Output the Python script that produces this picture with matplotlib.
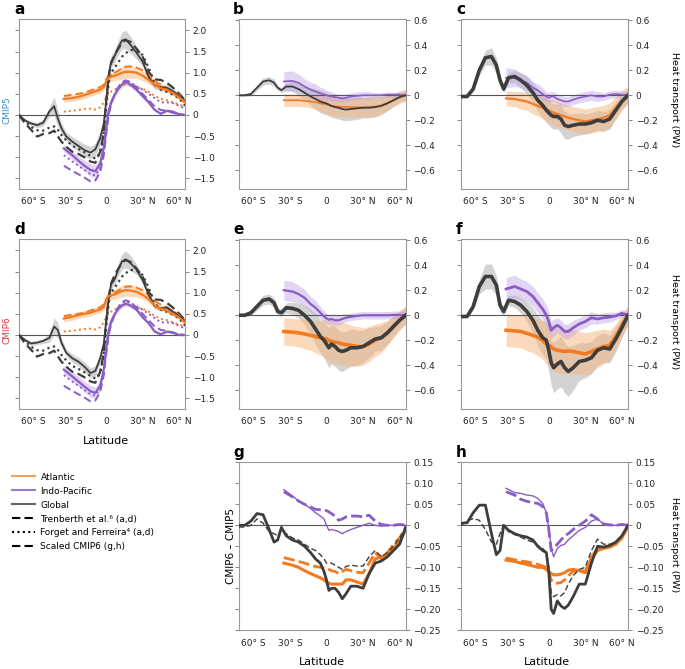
import matplotlib
matplotlib.use("Agg")
import matplotlib.pyplot as plt
from matplotlib.lines import Line2D

plt.rcParams['font.family'] = ['DejaVu Sans']

# latitude grids (global lines and the two ocean basins)
lat = [-72, -67, -62, -57, -52, -47, -43, -40, -37, -33, -28, -23, -18, -13, -9, -5, -2, 0,
       2, 4, 7, 10, 13, 16, 20, 25, 30, 35, 40, 45, 50, 55, 60, 65]
olat = [-35, -28, -23, -18, -13, -9, -5, -2, 0, 2, 4, 7, 10, 13, 16, 20, 25, 30, 35, 40, 45,
        50, 55, 60, 65]

xticks = [-60, -30, 0, 30, 60]
xtick_labels = ['60° S', '30° S', '0', '30° N', '60° N']
abs_ticks = [2.0, 1.5, 1.0, 0.5, 0, -0.5, -1.0, -1.5]
abs_labels = ['2.0', '1.5', '1.0', '0.5', '0', '−0.5', '−1.0', '−1.5']
chg_ticks = [0.6, 0.4, 0.2, 0, -0.2, -0.4, -0.6]
chg_labels = ['0.6', '0.4', '0.2', '0', '−0.2', '−0.4', '−0.6']
dif_ticks = [0.15, 0.10, 0.05, 0, -0.05, -0.10, -0.15, -0.20, -0.25]
dif_labels = ['0.15', '0.10', '0.05', '0', '−0.05', '−0.10', '−0.15', '−0.20', '−0.25']

# observational estimates (same in a and d)
obs_glob_tren = [0, -0.2, -0.35, -0.51, -0.45, -0.43, -0.37, -0.5, -0.63, -0.75, -0.87, -0.92, -1.0,
                 -1.1, -1.13, -0.87, -0.43, 0.35, 0.9, 1.22, 1.42, 1.57, 1.71, 1.77, 1.73, 1.57,
                 1.38, 1.02, 0.84, 0.83, 0.76, 0.65, 0.51, 0.35]
obs_glob_forg = [0, -0.15, -0.28, -0.36, -0.37, -0.3, -0.27, -0.35, -0.47, -0.6, -0.73, -0.8, -0.88,
                 -0.97, -1.03, -0.9, -0.45, 0.2, 0.75, 1.0, 1.12, 1.25, 1.38, 1.46, 1.54, 1.52,
                 1.42, 1.12, 0.75, 0.6, 0.55, 0.48, 0.4, 0.22]
obs_atl_tren = [0.45, 0.48, 0.5, 0.53, 0.58, 0.62, 0.66, 0.72, 0.85, 0.93, 0.97, 1.0, 1.05, 1.1,
                1.14, 1.15, 1.12, 1.06, 0.95, 0.8, 0.72, 0.65, 0.57, 0.47, 0.33]
obs_atl_forg = [0.08, 0.1, 0.12, 0.14, 0.15, 0.13, 0.18, 0.3, 0.42, 0.5, 0.55, 0.6, 0.65, 0.7, 0.72,
                0.7, 0.66, 0.62, 0.55, 0.45, 0.38, 0.35, 0.3, 0.25, 0.2]
obs_ip_tren = [-1.2, -1.32, -1.4, -1.48, -1.57, -1.55, -1.35, -0.95, -0.45, 0.0, 0.25, 0.5, 0.66,
               0.78, 0.82, 0.78, 0.65, 0.5, 0.35, 0.2, 0.12, 0.1, 0.05, 0.02, 0.0]
obs_ip_forg = [-0.95, -1.1, -1.2, -1.3, -1.4, -1.43, -1.25, -0.85, -0.4, 0.05, 0.28, 0.5, 0.65,
               0.76, 0.8, 0.76, 0.68, 0.6, 0.5, 0.4, 0.3, 0.3, 0.28, 0.22, 0.15]

# a: CMIP5 model mean
a_glob = [0, -0.13, -0.2, -0.24, -0.18, 0.08, 0.21, -0.08, -0.31, -0.51, -0.63, -0.73, -0.83,
          -0.89, -0.81, -0.55, -0.2, 0.35, 0.95, 1.26, 1.4, 1.6, 1.76, 1.79, 1.66, 1.47, 1.26,
          0.9, 0.7, 0.66, 0.64, 0.56, 0.45, 0.33]
a_glob_sd = [0.0, 0.04, 0.05, 0.06, 0.08, 0.12, 0.22, 0.2, 0.12, 0.1, 0.12, 0.13, 0.14, 0.15, 0.15,
             0.15, 0.15, 0.15, 0.15, 0.15, 0.15, 0.17, 0.2, 0.22, 0.2, 0.15, 0.1, 0.1, 0.08, 0.07,
             0.07, 0.07, 0.07, 0.07]
a_atl = [0.38, 0.4, 0.43, 0.47, 0.52, 0.56, 0.6, 0.66, 0.8, 0.88, 0.9, 0.93, 0.96, 1.0, 1.02, 1.02,
         1.0, 0.93, 0.83, 0.72, 0.63, 0.6, 0.52, 0.42, 0.3]
a_atl_sd = [0.08, 0.08, 0.08, 0.08, 0.08, 0.08, 0.08, 0.08, 0.1, 0.1, 0.1, 0.12, 0.13, 0.15, 0.15,
            0.15, 0.13, 0.12, 0.1, 0.08, 0.07, 0.07, 0.06, 0.06, 0.06]
a_ip = [-0.79, -0.95, -1.08, -1.2, -1.3, -1.33, -1.15, -0.75, -0.3, 0.1, 0.3, 0.48, 0.62, 0.72,
        0.78, 0.72, 0.6, 0.45, 0.3, 0.12, 0.03, 0.1, 0.08, 0.02, 0.0]
a_ip_sd = [0.08, 0.1, 0.12, 0.13, 0.15, 0.15, 0.12, 0.1, 0.1, 0.08, 0.08, 0.08, 0.07, 0.07, 0.07,
           0.06, 0.06, 0.05, 0.04, 0.03, 0.03, 0.03, 0.02, 0.02, 0.02]

# d: CMIP6 model mean
d_glob = [0, -0.12, -0.2, -0.18, -0.14, -0.07, 0.2, 0.12, -0.18, -0.42, -0.55, -0.63, -0.75, -0.9,
          -0.85, -0.55, -0.2, 0.35, 0.85, 1.2, 1.32, 1.55, 1.74, 1.79, 1.7, 1.55, 1.3, 0.95, 0.68,
          0.63, 0.65, 0.55, 0.45, 0.33]
d_glob_sd = [0.0, 0.04, 0.05, 0.05, 0.06, 0.1, 0.2, 0.18, 0.1, 0.08, 0.1, 0.1, 0.12, 0.12, 0.12,
             0.12, 0.12, 0.12, 0.12, 0.12, 0.13, 0.15, 0.18, 0.2, 0.18, 0.12, 0.08, 0.08, 0.07,
             0.06, 0.06, 0.06, 0.06, 0.06]
d_atl = [0.39, 0.43, 0.47, 0.5, 0.53, 0.57, 0.6, 0.66, 0.85, 0.92, 0.94, 0.96, 1.0, 1.04, 1.06, 1.05,
         1.02, 0.95, 0.85, 0.7, 0.62, 0.58, 0.5, 0.42, 0.3]
d_atl_sd = [0.08, 0.08, 0.08, 0.08, 0.08, 0.08, 0.08, 0.08, 0.1, 0.1, 0.1, 0.12, 0.13, 0.14, 0.14,
            0.14, 0.12, 0.1, 0.08, 0.07, 0.06, 0.06, 0.06, 0.06, 0.06]
d_ip = [-0.82, -0.98, -1.1, -1.22, -1.33, -1.37, -1.2, -0.8, -0.3, 0.1, 0.32, 0.5, 0.62, 0.7, 0.74,
        0.7, 0.6, 0.42, 0.28, 0.08, 0.02, 0.08, 0.06, 0.0, 0.0]
d_ip_sd = [0.1, 0.11, 0.12, 0.13, 0.14, 0.14, 0.12, 0.1, 0.1, 0.08, 0.08, 0.07, 0.07, 0.06, 0.06,
           0.06, 0.05, 0.05, 0.04, 0.03, 0.03, 0.03, 0.02, 0.02, 0.02]

# b, c: CMIP5 changes; e, f: CMIP6 changes
b_glob = [0, 0, 0.01, 0.06, 0.11, 0.12, 0.1, 0.06, 0.04, 0.07, 0.07, 0.05, 0.02, -0.01, -0.03,
          -0.05, -0.06, -0.065, -0.075, -0.085, -0.095, -0.1, -0.11, -0.115, -0.11, -0.105, -0.1,
          -0.1, -0.095, -0.085, -0.065, -0.04, -0.015, 0.0]
b_glob_sd = [0.01, 0.01, 0.015, 0.02, 0.03, 0.03, 0.03, 0.02, 0.02, 0.03, 0.04, 0.05, 0.06, 0.07,
             0.08, 0.09, 0.09, 0.09, 0.09, 0.09, 0.09, 0.09, 0.09, 0.09, 0.09, 0.09, 0.08, 0.08,
             0.08, 0.07, 0.06, 0.05, 0.04, 0.04]
b_atl = [-0.04, -0.04, -0.04, -0.045, -0.05, -0.055, -0.065, -0.07, -0.075, -0.08, -0.085, -0.088,
         -0.09, -0.092, -0.094, -0.095, -0.096, -0.096, -0.094, -0.09, -0.08, -0.06, -0.04,
         -0.015, 0.0]
b_atl_sd = [0.05, 0.05, 0.05, 0.05, 0.05, 0.06, 0.06, 0.07, 0.07, 0.08, 0.08, 0.08, 0.08, 0.08,
            0.08, 0.08, 0.08, 0.08, 0.08, 0.08, 0.07, 0.06, 0.05, 0.05, 0.05]
b_ip = [0.11, 0.115, 0.1, 0.07, 0.045, 0.03, 0.015, 0.005, 0.0, -0.005, -0.01, -0.015, -0.02,
        -0.025, -0.02, -0.01, -0.005, 0.0, 0.0, 0.0, 0.0, 0.005, 0.005, 0.005, 0.0]
b_ip_sd = [0.08, 0.08, 0.07, 0.06, 0.06, 0.06, 0.05, 0.05, 0.04, 0.04, 0.04, 0.03, 0.03, 0.03,
           0.03, 0.03, 0.03, 0.03, 0.03, 0.02, 0.02, 0.02, 0.02, 0.02, 0.02]

c_glob = [-0.01, -0.01, 0.05, 0.2, 0.3, 0.31, 0.24, 0.12, 0.05, 0.14, 0.15, 0.12, 0.08, 0.02,
          -0.04, -0.08, -0.12, -0.14, -0.16, -0.17, -0.17, -0.19, -0.24, -0.25, -0.24, -0.23,
          -0.23, -0.22, -0.2, -0.21, -0.19, -0.12, -0.05, 0.0]
c_glob_sd = [0.01, 0.01, 0.02, 0.04, 0.06, 0.07, 0.06, 0.04, 0.03, 0.04, 0.05, 0.06, 0.07, 0.08,
             0.09, 0.1, 0.1, 0.1, 0.1, 0.1, 0.1, 0.11, 0.11, 0.1, 0.09, 0.09, 0.08, 0.08, 0.08,
             0.08, 0.08, 0.07, 0.06, 0.06]
c_atl = [-0.025, -0.03, -0.04, -0.05, -0.07, -0.085, -0.1, -0.11, -0.12, -0.13, -0.14, -0.15,
         -0.16, -0.17, -0.18, -0.19, -0.2, -0.21, -0.2, -0.19, -0.18, -0.16, -0.1, -0.04, 0.0]
c_atl_sd = [0.06, 0.06, 0.07, 0.07, 0.08, 0.08, 0.09, 0.09, 0.1, 0.1, 0.1, 0.1, 0.1, 0.1, 0.1, 0.1,
            0.1, 0.1, 0.1, 0.1, 0.1, 0.1, 0.09, 0.08, 0.07]
c_ip = [0.14, 0.14, 0.12, 0.1, 0.06, 0.04, 0.01, -0.01, -0.02, -0.01, -0.01, -0.03, -0.04, -0.05,
        -0.05, -0.035, -0.02, -0.01, 0.0, -0.01, -0.01, 0.005, 0.01, 0.005, 0.0]
c_ip_sd = [0.08, 0.07, 0.06, 0.06, 0.05, 0.05, 0.05, 0.04, 0.04, 0.04, 0.04, 0.04, 0.04, 0.04,
           0.04, 0.04, 0.04, 0.04, 0.04, 0.04, 0.03, 0.03, 0.03, 0.03, 0.03]

e_glob = [0, 0, 0.02, 0.07, 0.12, 0.13, 0.1, 0.03, 0.02, 0.06, 0.055, 0.04, 0.0, -0.05, -0.11,
          -0.17, -0.2, -0.23, -0.26, -0.23, -0.25, -0.28, -0.29, -0.28, -0.26, -0.26, -0.25,
          -0.22, -0.19, -0.18, -0.14, -0.09, -0.04, 0.0]
e_glob_sd = [0.01, 0.01, 0.02, 0.03, 0.04, 0.04, 0.04, 0.03, 0.03, 0.04, 0.05, 0.06, 0.08, 0.1,
             0.12, 0.13, 0.14, 0.15, 0.16, 0.16, 0.16, 0.16, 0.16, 0.15, 0.15, 0.14, 0.13, 0.12,
             0.1, 0.1, 0.09, 0.08, 0.07, 0.07]
e_atl = [-0.13, -0.135, -0.14, -0.15, -0.16, -0.17, -0.18, -0.185, -0.19, -0.2, -0.21, -0.215,
         -0.22, -0.23, -0.235, -0.24, -0.25, -0.25, -0.23, -0.2, -0.18, -0.14, -0.09, -0.04, 0.0]
e_atl_sd = [0.11, 0.11, 0.11, 0.12, 0.12, 0.13, 0.14, 0.15, 0.16, 0.17, 0.17, 0.17, 0.17, 0.17,
            0.17, 0.16, 0.16, 0.15, 0.14, 0.13, 0.12, 0.1, 0.09, 0.08, 0.07]
e_ip = [0.2, 0.19, 0.17, 0.14, 0.09, 0.06, 0.02, -0.01, -0.025, -0.035, -0.03, -0.04, -0.04,
        -0.03, -0.02, -0.012, -0.005, 0.0, 0.0, 0.0, 0.0, 0.0, 0.003, 0.003, 0.0]
e_ip_sd = [0.08, 0.08, 0.07, 0.07, 0.06, 0.06, 0.05, 0.05, 0.04, 0.04, 0.04, 0.04, 0.04, 0.04,
           0.03, 0.03, 0.03, 0.03, 0.03, 0.03, 0.03, 0.03, 0.03, 0.03, 0.03]

f_glob = [-0.01, -0.01, 0.07, 0.23, 0.31, 0.31, 0.24, 0.08, 0.03, 0.12, 0.11, 0.08, 0.03, -0.04,
          -0.12, -0.18, -0.2, -0.28, -0.38, -0.42, -0.39, -0.37, -0.42, -0.45, -0.42, -0.37,
          -0.36, -0.34, -0.28, -0.26, -0.27, -0.19, -0.1, 0.0]
f_glob_sd = [0.01, 0.01, 0.03, 0.06, 0.1, 0.1, 0.08, 0.05, 0.04, 0.04, 0.05, 0.06, 0.08, 0.1,
             0.12, 0.14, 0.15, 0.17, 0.18, 0.2, 0.2, 0.2, 0.2, 0.2, 0.18, 0.15, 0.14, 0.13, 0.12,
             0.12, 0.11, 0.1, 0.08, 0.07]
f_atl = [-0.12, -0.125, -0.13, -0.145, -0.16, -0.175, -0.2, -0.23, -0.24, -0.255, -0.27, -0.28,
         -0.285, -0.29, -0.285, -0.29, -0.3, -0.31, -0.29, -0.27, -0.25, -0.24, -0.17, -0.08, 0.0]
f_atl_sd = [0.13, 0.13, 0.13, 0.14, 0.14, 0.15, 0.15, 0.16, 0.17, 0.18, 0.18, 0.18, 0.18, 0.18,
            0.18, 0.18, 0.17, 0.17, 0.16, 0.15, 0.14, 0.12, 0.1, 0.09, 0.08]
f_ip = [0.21, 0.23, 0.21, 0.19, 0.15, 0.1, 0.05, 0.0, -0.05, -0.12, -0.1, -0.08, -0.1, -0.13,
        -0.13, -0.1, -0.07, -0.05, -0.02, -0.03, -0.02, -0.015, -0.005, 0.015, 0.0]
f_ip_sd = [0.09, 0.09, 0.08, 0.08, 0.08, 0.08, 0.08, 0.08, 0.08, 0.07, 0.07, 0.06, 0.06, 0.06,
           0.06, 0.06, 0.05, 0.05, 0.05, 0.04, 0.04, 0.04, 0.03, 0.03, 0.03]

# g, h: CMIP6 - CMIP5 (solid) and scaled CMIP6 (dashed)
g_glob = [0.0, 0.0, 0.01, 0.028, 0.025, -0.01, -0.04, -0.035, -0.005, -0.025, -0.035, -0.04,
          -0.05, -0.065, -0.08, -0.09, -0.11, -0.13, -0.155, -0.15, -0.15, -0.16, -0.175, -0.163,
          -0.145, -0.145, -0.15, -0.115, -0.09, -0.085, -0.075, -0.06, -0.045, -0.005]
g_glob_sc = [-0.004, -0.004, 0.0, 0.015, 0.005, -0.015, -0.02, -0.025, -0.01, -0.02, -0.03, -0.035,
             -0.045, -0.055, -0.06, -0.07, -0.08, -0.09, -0.09, -0.09, -0.095, -0.1, -0.105,
             -0.098, -0.095, -0.097, -0.097, -0.075, -0.06, -0.075, -0.065, -0.05, -0.03, -0.005]
g_atl = [-0.09, -0.095, -0.1, -0.108, -0.115, -0.12, -0.125, -0.13, -0.135, -0.138, -0.14, -0.14,
         -0.14, -0.14, -0.13, -0.13, -0.135, -0.14, -0.115, -0.08, -0.075, -0.07, -0.055, -0.04,
         -0.01]
g_atl_sc = [-0.077, -0.082, -0.086, -0.09, -0.095, -0.098, -0.1, -0.102, -0.104, -0.105, -0.108,
            -0.11, -0.115, -0.11, -0.105, -0.108, -0.112, -0.113, -0.09, -0.065, -0.08, -0.065,
            -0.045, -0.03, -0.005]
g_ip = [0.085, 0.07, 0.058, 0.05, 0.04, 0.03, 0.022, 0.015, 0.0, -0.012, -0.01, -0.012, -0.015,
        -0.02, -0.015, -0.01, -0.005, 0.0, 0.005, 0.0, -0.002, 0.0, 0.0, 0.002, 0.0]
g_ip_sc = [0.08, 0.068, 0.058, 0.05, 0.044, 0.038, 0.037, 0.036, 0.035, 0.032, 0.028, 0.022, 0.012,
           0.015, 0.02, 0.022, 0.022, 0.02, 0.024, 0.01, 0.002, 0.0, 0.0, 0.002, 0.0]

h_glob = [0.005, 0.006, 0.03, 0.048, 0.048, -0.02, -0.07, -0.06, 0.0, -0.012, -0.02, -0.025,
          -0.028, -0.035, -0.05, -0.06, -0.065, -0.11, -0.2, -0.21, -0.18, -0.192, -0.198, -0.19,
          -0.17, -0.14, -0.14, -0.09, -0.05, -0.052, -0.048, -0.04, -0.025, 0.0]
h_glob_sc = [0.0, 0.01, 0.016, 0.012, -0.01, -0.04, -0.045, -0.02, 0.0, -0.015, -0.022, -0.028,
             -0.035, -0.04, -0.048, -0.055, -0.065, -0.1, -0.16, -0.17, -0.165, -0.168, -0.16,
             -0.14, -0.12, -0.105, -0.1, -0.06, -0.033, -0.045, -0.045, -0.04, -0.025, 0.0]
h_atl = [-0.083, -0.086, -0.09, -0.093, -0.097, -0.1, -0.1, -0.105, -0.11, -0.115, -0.118, -0.118,
         -0.116, -0.113, -0.107, -0.105, -0.108, -0.113, -0.08, -0.06, -0.055, -0.052, -0.045,
         -0.03, -0.003]
h_atl_sc = [-0.078, -0.082, -0.085, -0.087, -0.09, -0.093, -0.097, -0.1, -0.11, -0.13, -0.137,
            -0.138, -0.136, -0.13, -0.12, -0.11, -0.106, -0.11, -0.075, -0.055, -0.052, -0.05,
            -0.042, -0.03, -0.003]
h_ip = [0.088, 0.078, 0.076, 0.072, 0.07, 0.064, 0.052, 0.03, -0.005, -0.055, -0.075, -0.055,
        -0.048, -0.045, -0.035, -0.025, -0.012, -0.005, 0.01, 0.015, 0.003, 0.001, 0.0, 0.002, 0.0]
h_ip_sc = [0.08, 0.072, 0.062, 0.057, 0.054, 0.052, 0.045, 0.03, -0.01, -0.06, -0.055, -0.045,
           -0.035, -0.025, -0.02, -0.01, 0.0, 0.01, 0.025, 0.015, 0.003, 0.001, 0.0, 0.002, 0.0]

ORANGE = '#f47a1f'
PURPLE = '#8a5cc5'
DARK = '#3d3d3d'
BAND_G = '#a8a8a8'
BAND_O = '#f8b47a'
BAND_P = '#c0a2e6'
TICK_FS = 6.5

W, H = 685, 669
fig = plt.figure(figsize=(W / 100, H / 100), dpi=100)


def add_ax(left, top, right, bottom):
    return fig.add_axes([left / W, 1 - bottom / H, (right - left) / W, (bottom - top) / H])


def lower(v, s):
    return [a - b for a, b in zip(v, s)]


def upper(v, s):
    return [a + b for a, b in zip(v, s)]


def style(ax, ylim, yt, ytl):
    ax.set_xlim(-72, 65)
    ax.set_ylim(*ylim)
    ax.set_xticks(xticks)
    ax.set_xticklabels(xtick_labels)
    ax.set_yticks(yt)
    ax.set_yticklabels(ytl)
    ax.tick_params(axis='y', left=True, right=True, labelleft=False, labelright=True,
                   direction='out', length=3, width=0.7, color='#888888', labelsize=TICK_FS,
                   pad=2.5, labelcolor='#222222')
    ax.tick_params(axis='x', length=0, labelsize=TICK_FS, pad=6, labelcolor='#222222')
    for sp in ax.spines.values():
        sp.set_color('#999999')
        sp.set_linewidth(0.8)
    ax.axhline(0, color='#555555', lw=0.8, zorder=1)


def bands(ax, glob, glob_sd, atl, atl_sd, ip, ip_sd):
    ax.fill_between(lat, lower(glob, glob_sd), upper(glob, glob_sd), color=BAND_G, alpha=0.5, lw=0)
    ax.fill_between(olat, lower(atl, atl_sd), upper(atl, atl_sd), color=BAND_O, alpha=0.5, lw=0)
    ax.fill_between(olat, lower(ip, ip_sd), upper(ip, ip_sd), color=BAND_P, alpha=0.45, lw=0)


# --- absolute transports: a (CMIP5), d (CMIP6)
for top, glob, gsd, atl, asd, ip, isd in [(19, a_glob, a_glob_sd, a_atl, a_atl_sd, a_ip, a_ip_sd),
                                          (239, d_glob, d_glob_sd, d_atl, d_atl_sd, d_ip, d_ip_sd)]:
    ax = add_ax(19, top, 185, top + 170)
    bands(ax, glob, gsd, atl, asd, ip, isd)
    ax.plot(lat, obs_glob_tren, color=DARK, lw=1.6, ls=(0, (4, 2)), zorder=3)
    ax.plot(lat, obs_glob_forg, color=DARK, lw=1.6, ls=(0, (1, 1.6)), zorder=3)
    ax.plot(olat, obs_atl_tren, color=ORANGE, lw=1.4, ls=(0, (4, 2)), zorder=3)
    ax.plot(olat, obs_atl_forg, color=ORANGE, lw=1.4, ls=(0, (1, 1.6)), zorder=3)
    ax.plot(olat, obs_ip_tren, color=PURPLE, lw=1.4, ls=(0, (4, 2)), zorder=3)
    ax.plot(olat, obs_ip_forg, color=PURPLE, lw=1.4, ls=(0, (1, 1.6)), zorder=3)
    ax.plot(lat, glob, color=DARK, lw=1.3, zorder=4)
    ax.plot(olat, atl, color=ORANGE, lw=1.6, zorder=4)
    ax.plot(olat, ip, color=PURPLE, lw=1.6, zorder=4)
    style(ax, (-1.75, 2.27), abs_ticks, abs_labels)

# --- changes: b, c (CMIP5), e, f (CMIP6)
change_panels = [
    (238.7, 19, b_glob, b_glob_sd, b_atl, b_atl_sd, b_ip, b_ip_sd, (1.3, 1.2, 1.2)),
    (461, 19, c_glob, c_glob_sd, c_atl, c_atl_sd, c_ip, c_ip_sd, (2.6, 1.6, 1.2)),
    (238.7, 239, e_glob, e_glob_sd, e_atl, e_atl_sd, e_ip, e_ip_sd, (2.6, 2.6, 1.6)),
    (461, 239, f_glob, f_glob_sd, f_atl, f_atl_sd, f_ip, f_ip_sd, (2.6, 2.6, 2.0)),
]
for left, top, glob, gsd, atl, asd, ip, isd, lws in change_panels:
    ax = add_ax(left, top, left + 167, top + 170)
    bands(ax, glob, gsd, atl, asd, ip, isd)
    ax.plot(olat, atl, color=ORANGE, lw=lws[1], zorder=3)
    ax.plot(olat, ip, color=PURPLE, lw=lws[2], zorder=3)
    ax.plot(lat, glob, color=DARK, lw=lws[0], zorder=4)
    style(ax, (-0.75, 0.61), chg_ticks, chg_labels)

# --- differences: g, h
for left, glob, glob_sc, atl, atl_sc, ip, ip_sc in [
        (238.7, g_glob, g_glob_sc, g_atl, g_atl_sc, g_ip, g_ip_sc),
        (461, h_glob, h_glob_sc, h_atl, h_atl_sc, h_ip, h_ip_sc)]:
    ax = add_ax(left, 462.3, left + 167, 630.3)
    ax.plot(olat, ip, color=PURPLE, lw=1.0, zorder=3)
    ax.plot(olat, ip_sc, color=PURPLE, lw=2.0, ls=(0, (4, 1.5)), zorder=3)
    ax.plot(olat, atl, color=ORANGE, lw=2.2, zorder=3)
    ax.plot(olat, atl_sc, color=ORANGE, lw=2.0, ls=(0, (4, 1.5)), zorder=3)
    ax.plot(lat, glob_sc, color=DARK, lw=1.0, ls=(0, (4, 2)), zorder=4)
    ax.plot(lat, glob, color=DARK, lw=2.0, zorder=4)
    style(ax, (-0.25, 0.15), dif_ticks, dif_labels)

# panel letters
for letter, x, y in [('a', 14, 2), ('b', 233, 2), ('c', 456, 2),
                     ('d', 14, 222), ('e', 233, 222), ('f', 456, 222),
                     ('g', 233, 445), ('h', 456, 445)]:
    fig.text(x / W, 1 - y / H, letter, fontsize=11, fontweight='bold', va='top', ha='left')

fig.text(7 / W, 1 - 110 / H, 'CMIP5', color='#3a8fcf', fontsize=6.5, rotation=90,
         ha='center', va='center')
fig.text(7 / W, 1 - 330 / H, 'CMIP6', color='#e0353d', fontsize=6.5, rotation=90,
         ha='center', va='center')
fig.text(231 / W, 1 - 546 / H, 'CMIP6 – CMIP5', fontsize=7.5, rotation=90, ha='center', va='center')
for y in (100, 322, 545):
    fig.text(675 / W, 1 - y / H, 'Heat transport (PW)', fontsize=6.8, rotation=270,
             ha='center', va='center')
for x, y in ((106, 441), (322, 662), (547, 662)):
    fig.text(x / W, 1 - y / H, 'Latitude', fontsize=8, ha='center', va='center')

handles = [
    Line2D([], [], color='#f4a060', lw=1.5),
    Line2D([], [], color='#9b7ad2', lw=1.5),
    Line2D([], [], color='#666666', lw=1.5),
    Line2D([], [], color='black', lw=1.5, ls=(0, (4, 2))),
    Line2D([], [], color='black', lw=1.5, ls=(0, (1, 1.6))),
    Line2D([], [], color='black', lw=1.5, ls=(0, (4, 2))),
]
labels = ['Atlantic', 'Indo-Pacific', 'Global', 'Trenberth et al.⁶ (a,d)',
          'Forget and Ferreira⁴ (a,d)', 'Scaled CMIP6 (g,h)']
fig.legend(handles, labels, loc='upper left', bbox_to_anchor=(8 / W, 1 - 469 / H), frameon=False,
           fontsize=6.5, handlelength=2.6, handletextpad=0.6, labelspacing=0.55, borderaxespad=0)

fig.savefig('out.png', dpi=100)
